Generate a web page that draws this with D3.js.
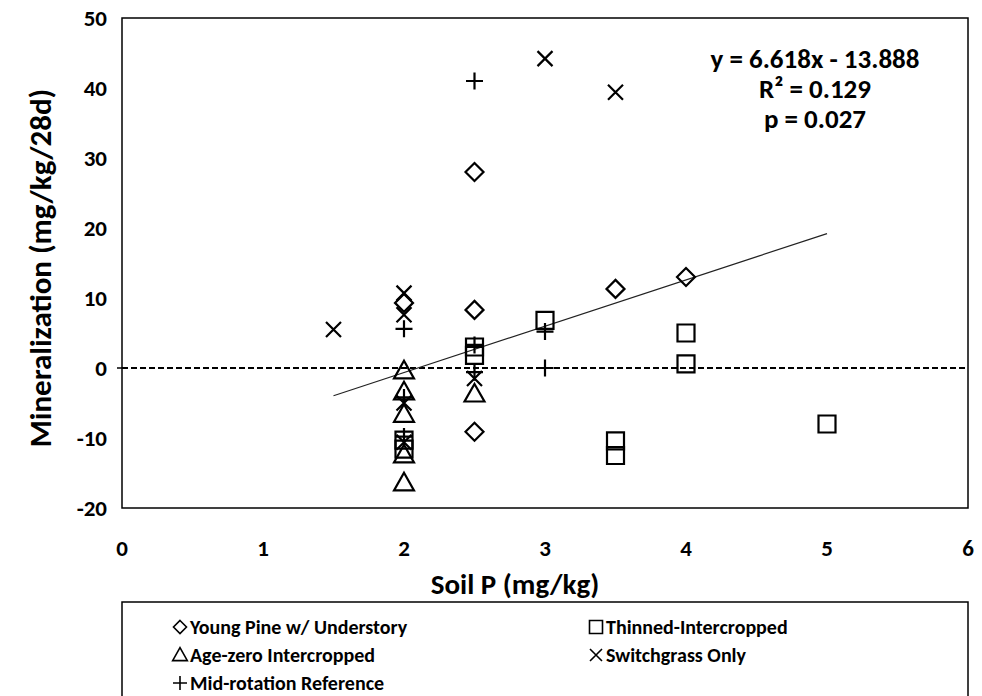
<!DOCTYPE html>
<html>
<head>
<meta charset="utf-8">
<script src="https://cdn.jsdelivr.net/npm/d3@7"></script>
<style>
  html, body { margin: 0; padding: 0; background: #fff; }
  svg { display: block; }
  text { font-family: Carlito, Lato, "Liberation Sans", sans-serif; font-weight: bold; fill: #000; }
</style>
</head>
<body>
<svg id="chart" width="982" height="696"></svg>
<script>
// Soil P (mg/kg) and N mineralization (mg/kg/28d) by land-use treatment
const youngPineX = [2, 2.5, 2.5, 2.5, 3.5, 4];
const youngPineY = [9.3, 28, 8.3, -9.1, 11.3, 13.0];

const thinnedX = [2, 2, 2.5, 2.5, 3, 3.5, 3.5, 4, 4, 5];
const thinnedY = [-10.3, -11.6, 3.0, 1.8, 6.8, -10.4, -12.5, 5.0, 0.6, -8.0];

const ageZeroX = [2, 2, 2, 2, 2, 2.5];
const ageZeroY = [-0.4, -3.4, -6.6, -12.4, -16.4, -3.7];

const switchgrassX = [1.5, 2, 2, 2, 2, 2.5, 3, 3.5];
const switchgrassY = [5.5, 10.7, 7.6, -5.0, -10.6, -1.5, 44.2, 39.4];

const midRotationX = [2, 2, 2, 2.5, 2.5, 2.5, 3, 3];
const midRotationY = [5.6, -4.2, -9.8, 41.0, 3.3, -0.6, 5.2, 0.0];

const xTicks = [0, 1, 2, 3, 4, 5, 6];
const yTicks = [-20, -10, 0, 10, 20, 30, 40, 50];

// Linear fit reported for the pooled data
const slope = 6.618, intercept = -13.888;
const fitRange = [1.5, 5];
const statLines = ["y = 6.618x - 13.888", "R² = 0.129", "p = 0.027"];

const seriesNames = ["Young Pine w/ Understory", "Thinned-Intercropped", "Age-zero Intercropped", "Switchgrass Only", "Mid-rotation Reference"];

const svg = d3.select("#chart");
const plot = { left: 122, right: 968, top: 18, bottom: 508 };

const x = d3.scaleLinear().domain([0, 6]).range([plot.left, plot.right]);
const y = d3.scaleLinear().domain([-20, 50]).range([plot.bottom, plot.top]);

// Marker shapes (outline only)
const shapes = {
  diamond: r => `M0,${-r}L${r},0L0,${r}L${-r},0Z`,
  square: r => `M${-r},${-r}H${r}V${r}H${-r}Z`,
  triangle: r => `M0,${-r * 1.05}L${r * 1.05},${r * 0.8}L${-r * 1.05},${r * 0.8}Z`,
  cross: r => `M${-r},${-r}L${r},${r}M${r},${-r}L${-r},${r}`,
  plus: r => `M${-r},0H${r}M0,${-r}V${r}`
};

const series = [
  { name: seriesNames[0], xs: youngPineX, ys: youngPineY, shape: "diamond", r: 9, lr: 6.5 },
  { name: seriesNames[1], xs: thinnedX, ys: thinnedY, shape: "square", r: 8.5, lr: 6.5 },
  { name: seriesNames[2], xs: ageZeroX, ys: ageZeroY, shape: "triangle", r: 9.5, lr: 7 },
  { name: seriesNames[3], xs: switchgrassX, ys: switchgrassY, shape: "cross", r: 7.5, lr: 6 },
  { name: seriesNames[4], xs: midRotationX, ys: midRotationY, shape: "plus", r: 8.5, lr: 7 }
];

// Plot frame
svg.append("rect")
  .attr("x", plot.left).attr("y", plot.top)
  .attr("width", plot.right - plot.left).attr("height", plot.bottom - plot.top)
  .attr("fill", "none").attr("stroke", "#000").attr("stroke-width", 1.5);

// Y tick labels
svg.append("g").selectAll("text").data(yTicks).join("text")
  .attr("x", plot.left - 15).attr("y", d => y(d)).attr("dy", "0.36em")
  .attr("text-anchor", "end").attr("font-size", 23)
  .text(d => d);

// X tick labels
svg.append("g").selectAll("text").data(xTicks).join("text")
  .attr("x", d => x(d)).attr("y", plot.bottom + 40).attr("dy", "0.36em")
  .attr("text-anchor", "middle").attr("font-size", 23)
  .text(d => d);

// Horizontal axis drawn at zero as a dashed rule, with its stub tick
svg.append("line")
  .attr("x1", x(0)).attr("x2", x(6)).attr("y1", y(0)).attr("y2", y(0))
  .attr("stroke", "#000").attr("stroke-width", 2).attr("stroke-dasharray", "6,3");
svg.append("line")
  .attr("x1", x(0) - 5).attr("x2", x(0)).attr("y1", y(0)).attr("y2", y(0))
  .attr("stroke", "#000").attr("stroke-width", 1.5);

// Axis titles
svg.append("text")
  .attr("x", 515).attr("y", plot.bottom + 76).attr("dy", "0.36em")
  .attr("text-anchor", "middle").attr("font-size", 29)
  .text("Soil P (mg/kg)");
svg.append("text")
  .attr("transform", "translate(40,268) rotate(-90)")
  .attr("text-anchor", "middle").attr("dy", "0.36em").attr("font-size", 31)
  .text("Mineralization (mg/kg/28d)");

// Trend line
svg.append("line")
  .attr("x1", x(fitRange[0])).attr("y1", y(slope * fitRange[0] + intercept))
  .attr("x2", x(fitRange[1])).attr("y2", y(slope * fitRange[1] + intercept))
  .attr("stroke", "#222").attr("stroke-width", 1.2);

// Points
series.forEach(s => {
  svg.append("g").selectAll("path").data(s.xs.map((v, i) => [v, s.ys[i]])).join("path")
    .attr("transform", d => `translate(${x(d[0])},${y(d[1])})`)
    .attr("d", shapes[s.shape](s.r))
    .attr("fill", "none").attr("stroke", "#000").attr("stroke-width", 2.2);
});

// Regression statistics
svg.append("g").selectAll("text").data(statLines).join("text")
  .attr("x", 815).attr("y", (d, i) => 58 + i * 30).attr("dy", "0.36em")
  .attr("text-anchor", "middle").attr("font-size", 27)
  .text(d => d);

// Legend
const legendTop = 602;
svg.append("rect")
  .attr("x", plot.left).attr("y", legendTop)
  .attr("width", plot.right - plot.left).attr("height", 120)
  .attr("fill", "none").attr("stroke", "#000").attr("stroke-width", 1.5);

const legendPos = [[180, 627], [596, 627], [180, 655], [596, 655], [180, 683]];
series.forEach((s, i) => {
  const [lx, ly] = legendPos[i];
  svg.append("path")
    .attr("transform", `translate(${lx},${ly})`)
    .attr("d", shapes[s.shape](s.lr))
    .attr("fill", "none").attr("stroke", "#000").attr("stroke-width", 1.6);
  svg.append("text")
    .attr("x", lx + 10).attr("y", ly).attr("dy", "0.36em")
    .attr("font-size", 20)
    .text(s.name);
});
</script>
</body>
</html>
